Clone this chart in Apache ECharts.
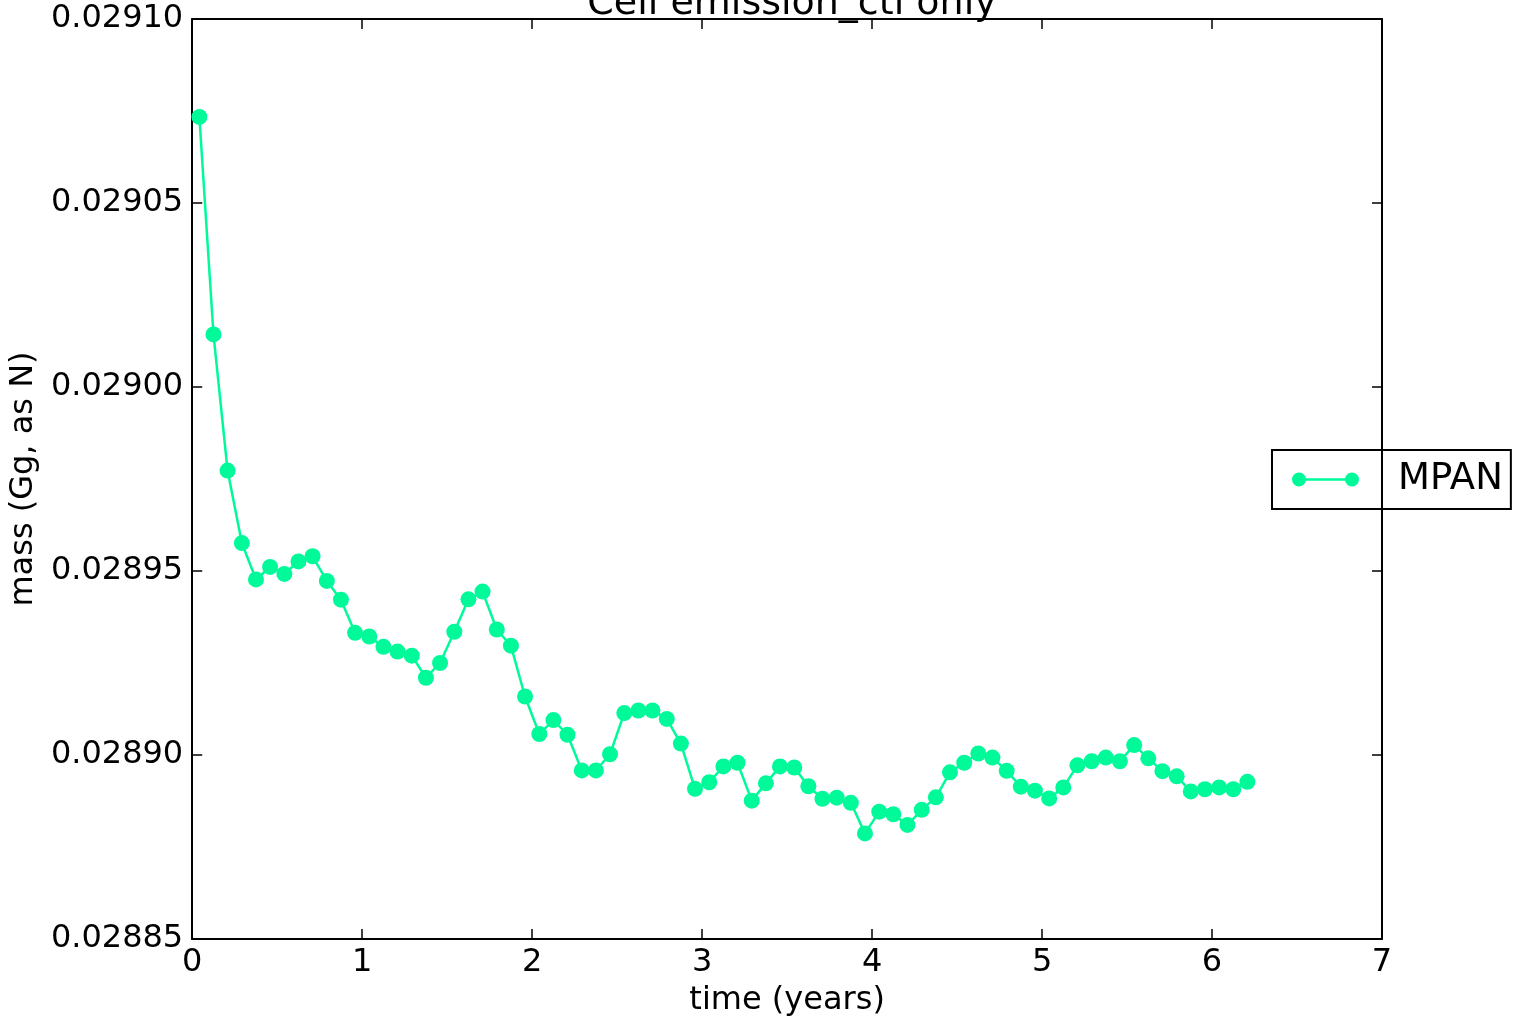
<!DOCTYPE html>
<html>
<head>
<meta charset="utf-8">
<script src="https://cdn.jsdelivr.net/npm/echarts@6/dist/echarts.min.js"></script>
<style>
html,body{margin:0;padding:0;background:#fff;}
#chart{width:1513px;height:1022px;}
</style>
</head>
<body>
<div id="chart"></div>
<script>
var chartTitle = 'Cell emission_ctl only';
var seriesName = 'MPAN';
var xAxisTitle = 'time (years)';
var yAxisTitle = 'mass (Gg, as N)';
var xTicks = [0, 1, 2, 3, 4, 5, 6, 7];
var yTicks = [0.02885, 0.02890, 0.02895, 0.02900, 0.02905, 0.02910];

var times = [
  0.042, 0.125, 0.208, 0.292, 0.375, 0.458, 0.542, 0.625, 0.708, 0.792, 0.875, 0.958,
  1.042, 1.125, 1.208, 1.292, 1.375, 1.458, 1.542, 1.625, 1.708, 1.792, 1.875, 1.958,
  2.042, 2.125, 2.208, 2.292, 2.375, 2.458, 2.542, 2.625, 2.708, 2.792, 2.875, 2.958,
  3.042, 3.125, 3.208, 3.292, 3.375, 3.458, 3.542, 3.625, 3.708, 3.792, 3.875, 3.958,
  4.042, 4.125, 4.208, 4.292, 4.375, 4.458, 4.542, 4.625, 4.708, 4.792, 4.875, 4.958,
  5.042, 5.125, 5.208, 5.292, 5.375, 5.458, 5.542, 5.625, 5.708, 5.792, 5.875, 5.958,
  6.042, 6.125, 6.208
];

var mpan = [
  0.0290734, 0.0290143, 0.0289773, 0.0289576, 0.0289477, 0.0289511, 0.0289492, 0.0289526, 0.0289540, 0.0289473, 0.0289422, 0.0289332,
  0.0289322, 0.0289294, 0.0289281, 0.0289270, 0.0289210, 0.0289250, 0.0289335, 0.0289423, 0.0289444, 0.0289341, 0.0289297, 0.0289159,
  0.0289057, 0.0289095, 0.0289055, 0.0288958, 0.0288958, 0.0289002, 0.0289114, 0.0289121, 0.0289121, 0.0289098, 0.0289031, 0.0288908,
  0.0288926, 0.0288969, 0.0288979, 0.0288876, 0.0288923, 0.0288969, 0.0288966, 0.0288915, 0.0288881, 0.0288884, 0.0288870, 0.0288787,
  0.0288846, 0.0288839, 0.0288810, 0.0288851, 0.0288885, 0.0288953, 0.0288979, 0.0289004, 0.0288993, 0.0288957, 0.0288914, 0.0288903,
  0.0288882, 0.0288912, 0.0288972, 0.0288983, 0.0288993, 0.0288983, 0.0289027, 0.0288991, 0.0288956, 0.0288942, 0.0288901, 0.0288907,
  0.0288912, 0.0288907, 0.0288927
];

var lineColor = '#00fa9a';
var font = 'DejaVu Sans';

var data = times.map(function (t, i) { return [t, mpan[i]]; });

var xMin = xTicks[0], xMax = xTicks[xTicks.length - 1];
var yMin = yTicks[0], yMax = yTicks[yTicks.length - 1];
var yStep = 0.00005;

var chart = echarts.init(document.getElementById('chart'), null, {renderer: 'canvas'});

var axisLineStyle = {color: '#000', width: 2};
var tickStyle = {show: true, inside: true, length: 10, lineStyle: {color: '#000', width: 1.5}};

chart.setOption({
  animation: false,
  backgroundColor: '#fff',
  title: {
    text: chartTitle,
    left: 787,
    textAlign: 'center',
    top: -20,
    textStyle: {fontFamily: font, fontSize: 38, fontWeight: 'normal', color: '#000'}
  },
  legend: {
    data: [seriesName],
    left: 1272,
    top: 450,
    orient: 'vertical',
    borderColor: '#000',
    borderWidth: 2,
    borderRadius: 0,
    padding: [11, 8, 11, 20],
    itemWidth: 67,
    itemHeight: 14,
    icon: 'path://M0,7A7,7 0 1,1 14,7A7,7 0 1,1 0,7Z M13,5.8L54,5.8L54,8.2L13,8.2Z M53,7A7,7 0 1,1 67,7A7,7 0 1,1 53,7Z',
    itemStyle: {color: lineColor, borderWidth: 0},
    lineStyle: {width: 0},
    textStyle: {fontFamily: font, fontSize: 37, color: '#000', padding: [0, 0, 0, 34]}
  },
  grid: {left: 192, right: 131, top: 19, bottom: 81, containLabel: false},
  xAxis: [{
    type: 'value',
    min: xMin, max: xMax, interval: 1,
    position: 'bottom',
    name: xAxisTitle,
    nameLocation: 'middle',
    nameGap: 46,
    nameTextStyle: {fontFamily: font, fontSize: 32, color: '#000'},
    axisLine: {show: true, onZero: false, lineStyle: axisLineStyle},
    axisTick: tickStyle,
    axisLabel: {fontFamily: font, fontSize: 32, color: '#000', margin: 8},
    splitLine: {show: false}
  }, {
    type: 'value',
    min: xMin, max: xMax, interval: 1,
    position: 'top',
    axisLine: {show: true, onZero: false, lineStyle: axisLineStyle},
    axisTick: tickStyle,
    axisLabel: {show: false},
    splitLine: {show: false}
  }],
  yAxis: [{
    type: 'value',
    min: yMin, max: yMax, interval: yStep,
    position: 'left',
    name: yAxisTitle,
    nameLocation: 'middle',
    nameGap: 152,
    nameRotate: 90,
    nameTextStyle: {fontFamily: font, fontSize: 32, color: '#000'},
    axisLine: {show: true, onZero: false, lineStyle: axisLineStyle},
    axisTick: tickStyle,
    axisLabel: {fontFamily: font, fontSize: 32, color: '#000', margin: 9,
      formatter: function (v) { return v.toFixed(5); }},
    splitLine: {show: false}
  }, {
    type: 'value',
    min: yMin, max: yMax, interval: yStep,
    position: 'right',
    axisLine: {show: true, onZero: false, lineStyle: axisLineStyle},
    axisTick: tickStyle,
    axisLabel: {show: false},
    splitLine: {show: false}
  }],
  series: [{
    name: seriesName,
    type: 'line',
    xAxisIndex: 0,
    yAxisIndex: 0,
    data: data,
    symbol: 'circle',
    symbolSize: 16,
    showAllSymbol: true,
    lineStyle: {color: lineColor, width: 2.5},
    itemStyle: {color: lineColor, borderWidth: 0},
    emphasis: {disabled: true}
  }]
});
</script>
</body>
</html>
